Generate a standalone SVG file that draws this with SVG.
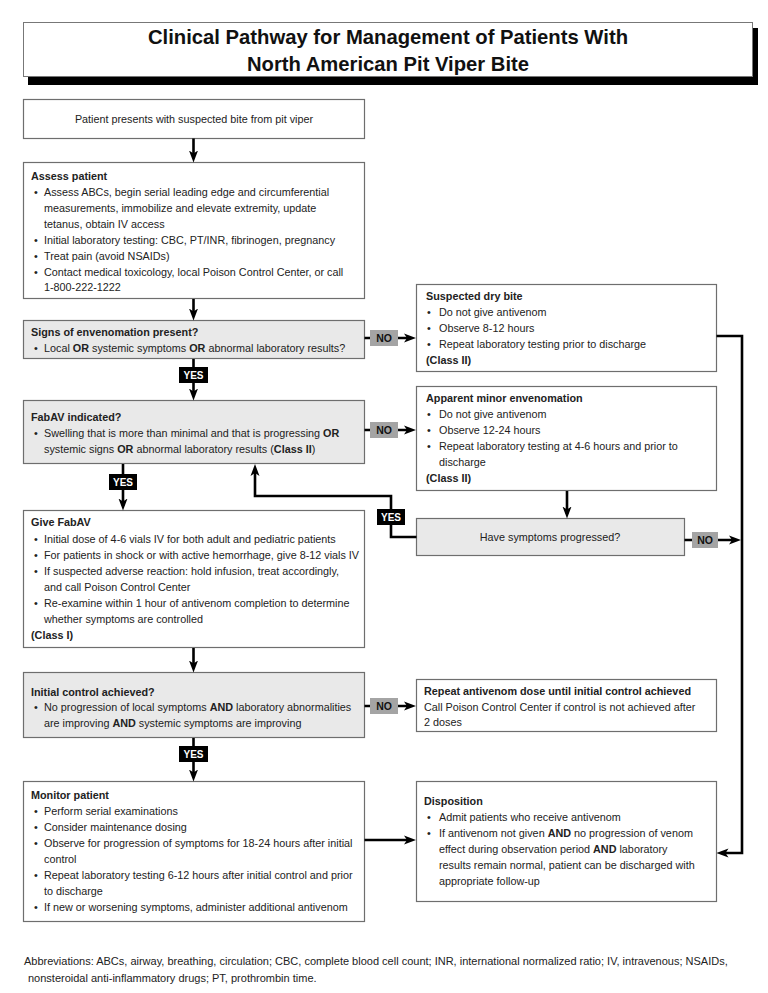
<svg xmlns="http://www.w3.org/2000/svg" width="768" height="993" viewBox="0 0 768 993">
<style>
.bx{fill:#fff;stroke:#6e6e6e;stroke-width:1.2}
.q{fill:#e9e9e9;stroke:#6e6e6e;stroke-width:1.2}
text{font-family:"Liberation Sans",Arial,Helvetica,sans-serif;font-size:10.8px;fill:#222}
.b{font-weight:bold}
.ttl{font-size:21px;font-weight:bold;fill:#111}
.c{fill:none;stroke:#000;stroke-width:2.6}
.yes{fill:#000}
.yt{fill:#fff;font-weight:bold;font-size:10px}
.no{fill:#a4a4a4}
.nt{fill:#111;font-weight:bold;font-size:10.5px}
.ab{font-size:11px}
</style>
<defs>
<marker id="ah" markerUnits="userSpaceOnUse" markerWidth="12" markerHeight="10" refX="7" refY="5" orient="auto"><path d="M0,0.5 L12,5 L0,9.5 L3,5 z" fill="#000"/></marker>
</defs>

<g id="title">
<rect x="28" y="28" width="730" height="57" fill="#000"/>
<rect x="23.5" y="22.5" width="729" height="54" fill="#fff" stroke="#777" stroke-width="1"/>
<text class="ttl" x="388" y="44" text-anchor="middle" textLength="480" lengthAdjust="spacingAndGlyphs">Clinical Pathway for Management of Patients With</text>
<text class="ttl" x="388" y="71" text-anchor="middle" textLength="282" lengthAdjust="spacingAndGlyphs">North American Pit Viper Bite</text>
</g>

<g id="patient">
<rect class="bx" x="23.5" y="99.5" width="341" height="39"/>
<text x="194" y="123" text-anchor="middle">Patient presents with suspected bite from pit viper</text>
</g>

<g id="assess">
<rect class="bx" x="23.5" y="162.5" width="341" height="136"/>
<text class="b" x="31" y="180">Assess patient</text>
<text x="34" y="195.5">•</text><text x="44" y="195.5">Assess ABCs, begin serial leading edge and circumferential</text>
<text x="44" y="211.5">measurements, immobilize and elevate extremity, update</text>
<text x="44" y="227.5">tetanus, obtain IV access</text>
<text x="34" y="243.5">•</text><text x="44" y="243.5">Initial laboratory testing: CBC, PT/INR, fibrinogen, pregnancy</text>
<text x="34" y="259.5">•</text><text x="44" y="259.5">Treat pain (avoid NSAIDs)</text>
<text x="34" y="275.5">•</text><text x="44" y="275.5">Contact medical toxicology, local Poison Control Center, or call</text>
<text x="44" y="291">1-800-222-1222</text>
</g>

<g id="signs">
<rect class="q" x="23.5" y="320.5" width="341" height="38"/>
<text class="b" x="31" y="336">Signs of envenomation present?</text>
<text x="34" y="352">•</text><text x="44" y="352">Local <tspan class="b">OR</tspan> systemic symptoms <tspan class="b">OR</tspan> abnormal laboratory results?</text>
</g>

<g id="drybite">
<rect class="bx" x="416.5" y="284.5" width="300" height="87"/>
<text class="b" x="426" y="299.5">Suspected dry bite</text>
<text x="427" y="315.5">•</text><text x="439" y="315.5">Do not give antivenom</text>
<text x="427" y="331.5">•</text><text x="439" y="331.5">Observe 8-12 hours</text>
<text x="427" y="347.5">•</text><text x="439" y="347.5">Repeat laboratory testing prior to discharge</text>
<text class="b" x="426" y="363.5">(Class II)</text>
</g>

<g id="fabav">
<rect class="q" x="23.5" y="400.5" width="341" height="63"/>
<text class="b" x="31" y="420.5">FabAV indicated?</text>
<text x="34" y="437">•</text><text x="44" y="437">Swelling that is more than minimal and that is progressing <tspan class="b">OR</tspan></text>
<text x="44" y="453">systemic signs <tspan class="b">OR</tspan> abnormal laboratory results (<tspan class="b">Class II</tspan>)</text>
</g>

<g id="minor">
<rect class="bx" x="416.5" y="386.5" width="300" height="104"/>
<text class="b" x="426" y="401.5">Apparent minor envenomation</text>
<text x="427" y="417.5">•</text><text x="439" y="417.5">Do not give antivenom</text>
<text x="427" y="433.5">•</text><text x="439" y="433.5">Observe 12-24 hours</text>
<text x="427" y="449.5">•</text><text x="439" y="449.5">Repeat laboratory testing at 4-6 hours and prior to</text>
<text x="439" y="465.5">discharge</text>
<text class="b" x="426" y="482">(Class II)</text>
</g>

<g id="progressed">
<rect class="q" x="416.5" y="518.5" width="268" height="37"/>
<text x="550" y="541" text-anchor="middle">Have symptoms progressed?</text>
</g>

<g id="give">
<rect class="bx" x="23.5" y="510.5" width="341" height="137"/>
<text class="b" x="31" y="526">Give FabAV</text>
<text x="34" y="542.5">•</text><text x="44" y="542.5">Initial dose of 4-6 vials IV for both adult and pediatric patients</text>
<text x="34" y="558.5">•</text><text x="44" y="558.5">For patients in shock or with active hemorrhage, give 8-12 vials IV</text>
<text x="34" y="574.5">•</text><text x="44" y="574.5">If suspected adverse reaction: hold infusion, treat accordingly,</text>
<text x="44" y="590.5">and call Poison Control Center</text>
<text x="34" y="606.5">•</text><text x="44" y="606.5">Re-examine within 1 hour of antivenom completion to determine</text>
<text x="44" y="622.5">whether symptoms are controlled</text>
<text class="b" x="31" y="638.5">(Class I)</text>
</g>

<g id="control">
<rect class="q" x="23.5" y="672.5" width="341" height="65"/>
<text class="b" x="31" y="695.5">Initial control achieved?</text>
<text x="34" y="711">•</text><text x="44" y="711">No progression of local symptoms <tspan class="b">AND</tspan> laboratory abnormalities</text>
<text x="44" y="726.5">are improving <tspan class="b">AND</tspan> systemic symptoms are improving</text>
</g>

<g id="repeat">
<rect class="bx" x="416.5" y="679.5" width="300" height="52"/>
<text class="b" x="424" y="695">Repeat antivenom dose until initial control achieved</text>
<text x="424" y="710.5">Call Poison Control Center if control is not achieved after</text>
<text x="424" y="726">2 doses</text>
</g>

<g id="monitor">
<rect class="bx" x="23.5" y="781.5" width="341" height="140"/>
<text class="b" x="31" y="798.5">Monitor patient</text>
<text x="34" y="814.5">•</text><text x="44" y="814.5">Perform serial examinations</text>
<text x="34" y="830.5">•</text><text x="44" y="830.5">Consider maintenance dosing</text>
<text x="34" y="846.5">•</text><text x="44" y="846.5">Observe for progression of symptoms for 18-24 hours after initial</text>
<text x="44" y="862.5">control</text>
<text x="34" y="878.5">•</text><text x="44" y="878.5">Repeat laboratory testing 6-12 hours after initial control and prior</text>
<text x="44" y="894.5">to discharge</text>
<text x="34" y="910.5">•</text><text x="44" y="910.5">If new or worsening symptoms, administer additional antivenom</text>
</g>

<g id="disposition">
<rect class="bx" x="416.5" y="781.5" width="300" height="120"/>
<text class="b" x="424" y="805">Disposition</text>
<text x="427" y="821">•</text><text x="439" y="821">Admit patients who receive antivenom</text>
<text x="427" y="837">•</text><text x="439" y="837">If antivenom not given <tspan class="b">AND</tspan> no progression of venom</text>
<text x="439" y="853">effect during observation period <tspan class="b">AND</tspan> laboratory</text>
<text x="439" y="869">results remain normal, patient can be discharged with</text>
<text x="439" y="885">appropriate follow-up</text>
</g>

<g id="connectors">
<path class="c" d="M193.5,138.5 V157.5" marker-end="url(#ah)"/>
<path class="c" d="M193.5,299 V315.5" marker-end="url(#ah)"/>
<path class="c" d="M193.5,359 V395.5" marker-end="url(#ah)"/>
<path class="c" d="M364.5,338 H411" marker-end="url(#ah)"/>
<path class="c" d="M364.5,430 H411" marker-end="url(#ah)"/>
<path class="c" d="M123,464 V505.5" marker-end="url(#ah)"/>
<path class="c" d="M567,491 V513.5" marker-end="url(#ah)"/>
<path class="c" d="M416.5,537 H391 V496 H255 V469" marker-end="url(#ah)"/>
<path class="c" d="M684.5,540 H736" marker-end="url(#ah)"/>
<path class="c" d="M716.5,336 H742 V853 H721.5" marker-end="url(#ah)"/>
<path class="c" d="M193.5,648 V667.5" marker-end="url(#ah)"/>
<path class="c" d="M364.5,706 H411" marker-end="url(#ah)"/>
<path class="c" d="M193.5,738 V776.5" marker-end="url(#ah)"/>
<path class="c" d="M364.5,840 H411" marker-end="url(#ah)"/>

<rect class="yes" x="179" y="367" width="29" height="16"/><text class="yt" x="193.5" y="379" text-anchor="middle">YES</text>
<rect class="no" x="370" y="330" width="28" height="16"/><text class="nt" x="384" y="342" text-anchor="middle">NO</text>
<rect class="no" x="370" y="422" width="28" height="16"/><text class="nt" x="384" y="434" text-anchor="middle">NO</text>
<rect class="yes" x="109" y="474" width="28" height="16"/><text class="yt" x="123" y="486" text-anchor="middle">YES</text>
<rect class="yes" x="377" y="509" width="28" height="16"/><text class="yt" x="391" y="521" text-anchor="middle">YES</text>
<rect class="no" x="692" y="532" width="26" height="16"/><text class="nt" x="705" y="544" text-anchor="middle">NO</text>
<rect class="no" x="370" y="698" width="28" height="16"/><text class="nt" x="384" y="710" text-anchor="middle">NO</text>
<rect class="yes" x="179" y="746" width="29" height="16"/><text class="yt" x="193.5" y="758" text-anchor="middle">YES</text>
</g>

<g id="abbreviations">
<text class="ab" x="24" y="965">Abbreviations: ABCs, airway, breathing, circulation; CBC, complete blood cell count; INR, international normalized ratio; IV, intravenous; NSAIDs,</text>
<text class="ab" x="28" y="982">nonsteroidal anti-inflammatory drugs; PT, prothrombin time.</text>
</g>
</svg>
